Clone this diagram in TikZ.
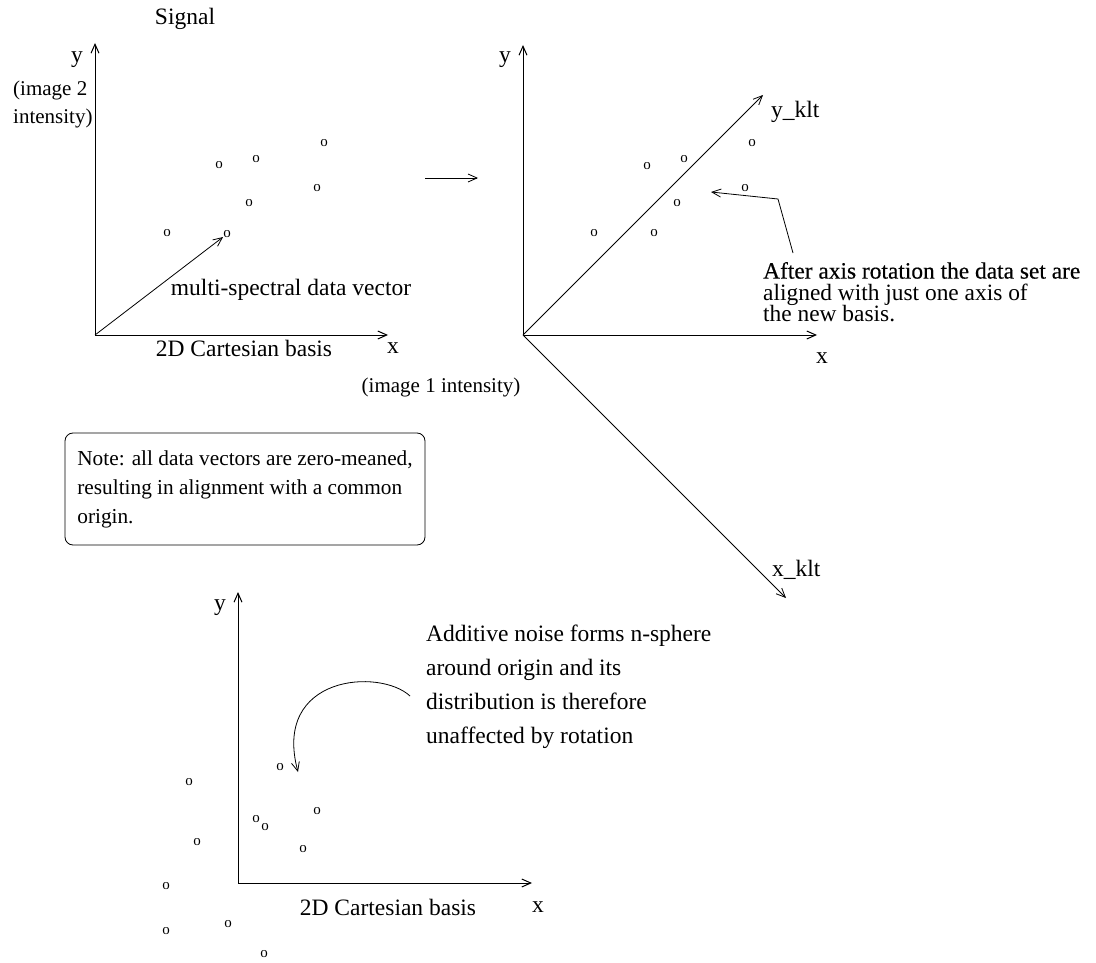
\documentclass[tikz,border=0pt]{standalone}
\usepackage{fontspec}
\setmainfont{Liberation Serif}
\usetikzlibrary{arrows.meta}
\tikzset{
  axisline/.style={-{Straight Barb[length=9pt,width=8pt]}, line width=1pt},
  pointer/.style={-{Straight Barb[length=9pt,width=8pt]}, line width=0.8pt},
  txt/.style={font=\fontsize{23.5}{23.5}\selectfont, inner sep=0pt},
  smalltxt/.style={font=\fontsize{21}{28}\selectfont, inner sep=0pt, align=left},
  sample/.style={font=\fontsize{15}{15}\selectfont, inner sep=0pt},
  notebox/.style={
    draw, rounded corners=8pt, line width=0.8pt, align=left,
    font=\fontsize{21.3}{29}\selectfont,
    minimum width=360pt, minimum height=112pt
  },
}
\begin{document}
\begin{tikzpicture}[x=1pt, y=-1pt]
  \useasboundingbox (0,0) rectangle (1096,963);

  %% ── Panel 1: signal in the Cartesian basis ──
  \coordinate (o1) at (95,335);
  \coordinate (y1) at (95,43);
  \coordinate (x1) at (388,335);
  \draw[axisline] (o1) -- (y1);
  \draw[axisline] (o1) -- (x1);
  \node[txt] (signal) at (185,19) {Signal};
  \node[txt] (ylab1) at (77,60) {y};
  \node[smalltxt, anchor=west] (yint) at (13,104) {(image 2\\intensity)};
  \node[txt] (xlab1) at (393,348) {x};
  \node[txt] (basis1) at (244,348) {2D Cartesian basis};
  \node[smalltxt] (xint) at (441,387) {(image 1 intensity)};
  \foreach \px/\py [count=\i] in {167/233, 219/165, 256/159, 324/143,
                                  317/188, 249/203, 227/234}
    \node[sample] (s\i) at (\px,\py) {o};
  \draw[pointer] (o1) -- (s7);
  \node[txt] (vec) at (291,290) {multi-spectral data vector};

  %% ── Transition ──
  \coordinate (go1) at (425,178);
  \coordinate (go2) at (478,178);
  \draw[pointer] (go1) -- (go2);

  %% ── Panel 2: rotated KLT basis ──
  \coordinate (o2) at (523,335);
  \coordinate (y2) at (523,45);
  \coordinate (x2) at (817,335);
  \coordinate (yk) at (763,95);
  \coordinate (xk) at (786,598);
  \draw[axisline] (o2) -- (y2);
  \draw[axisline] (o2) -- (x2);
  \draw[pointer] (o2) -- (yk);
  \draw[pointer] (o2) -- (xk);
  \node[txt] (ylab2) at (505,60) {y};
  \node[txt] (xlab2) at (822,358) {x};
  \node[txt, anchor=west] (yklt) at (771,112) {y\_klt};
  \node[txt, anchor=west] (xklt) at (772,570) {x\_klt};
  \foreach \px/\py [count=\i] in {594/233, 647/166, 684/159, 752/143,
                                  745/188, 677/203, 654/233}
    \node[sample] (r\i) at (\px,\py) {o};
  \node[txt, anchor=west, align=left, font=\fontsize{23.4}{21.5}\selectfont]
  (after) at (763,292)
  {{\addfontfeature{FakeBold=0.4}After axis rotation the data set are}\\
   aligned with just one axis of\\the new basis.};
  \coordinate (an1) at (793,253);
  \coordinate (an2) at (778,199);
  \coordinate (an3) at (711,192);
  \draw[pointer] (an1) -- (an2) -- (an3);

  %% ── Note ──
  \node[notebox] (note) at (245,489)
  {Note: all data vectors are zero-meaned,\\
   resulting in alignment with a common\\origin.};

  %% ── Panel 3: additive noise ──
  \coordinate (o3) at (238,883);
  \coordinate (y3) at (238,592);
  \coordinate (x3) at (532,883);
  \draw[axisline] (o3) -- (y3);
  \draw[axisline] (o3) -- (x3);
  \node[txt] (ylab3) at (220,608) {y};
  \node[txt] (xlab3) at (538,907) {x};
  \node[txt] (basis3) at (388,907) {2D Cartesian basis};
  \foreach \px/\py [count=\i] in {280/767, 189/782, 317/811, 256/819,
                                  265/827, 197/842, 303/849, 166/886,
                                  228/924, 166/931, 264/954}
    \node[sample] (n\i) at (\px,\py) {o};
  \node[txt, anchor=west, align=left, font=\fontsize{23.5}{34}\selectfont]
  (noise) at (426,687)
  {Additive noise forms n-sphere\\around origin and its\\
   distribution is therefore\\unaffected by rotation};
  \coordinate (cv1) at (410,696);
  \coordinate (cv2) at (298,772);
  \draw[pointer] (cv1) .. controls (380,668) and (272,675) .. (cv2);

\end{tikzpicture}
\end{document}
